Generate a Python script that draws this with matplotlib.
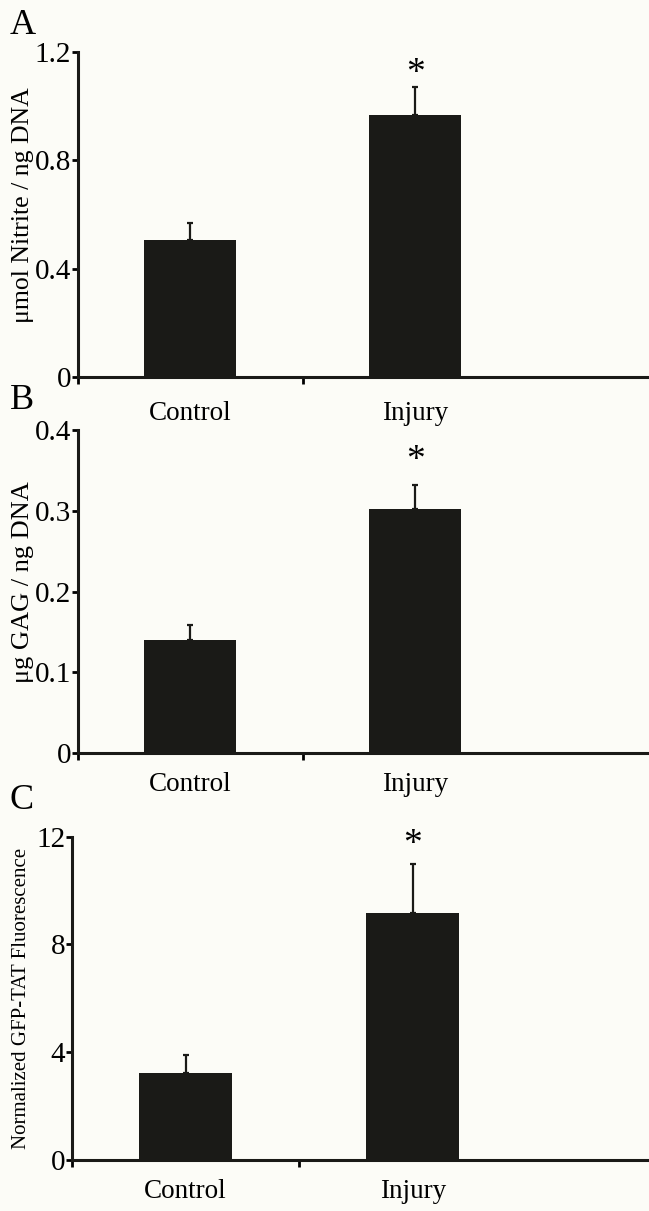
import numpy as np
import matplotlib
matplotlib.use('Agg')
import matplotlib.pyplot as plt

plt.rcParams['font.family'] = ['Liberation Serif', 'DejaVu Serif']

groups = ['Control', 'Injury']

nitrite = [0.506, 0.967]
nitrite_err = [0.064, 0.103]

gag = [0.140, 0.302]
gag_err = [0.018, 0.030]

gfp = [3.24, 9.16]
gfp_err = [0.66, 1.83]

panels = [
    ('A', nitrite, nitrite_err, 'μmol Nitrite / ng DNA', [0, 0.4, 0.8, 1.2], ['0', '0.4', '0.8', '1.2'], 1.2, 1.12, 18.5, 17),
    ('B', gag, gag_err, 'μg GAG / ng DNA', [0, 0.1, 0.2, 0.3, 0.4], ['0', '0.1', '0.2', '0.3', '0.4'], 0.4, 0.362, 19, 14),
    ('C', gfp, gfp_err, 'Normalized GFP-TAT Fluorescence', [0, 4, 8, 12], ['0', '4', '8', '12'], 12, 11.7, 15, 14),
]

# axes rectangles [left, bottom, width, height] in figure fraction
rects = [
    [0.120, 0.6887, 0.880, 0.2684],
    [0.120, 0.3782, 0.880, 0.2667],
    [0.111, 0.0421, 0.889, 0.2670],
]
letter_y = [0.979, 0.669, 0.339]
# y label positions in axes fraction
label_xy = [(-0.077, 0.53), (-0.077, 0.53), (-0.071, 0.50)]

bg = '#fcfcf7'
fig = plt.figure(figsize=(6.49, 12.11), dpi=100, facecolor=bg)

x = np.arange(len(groups))
for (letter, vals, errs, ylab, yt, ytl, ymax, star_y, ylab_fs, xpad), rect, ly, lxy in zip(panels, rects, letter_y, label_xy):
    ax = fig.add_axes(rect)
    ax.set_facecolor(bg)
    ax.bar(x, vals, width=0.41, color='#1a1a17', zorder=2)
    ax.errorbar(x, vals, yerr=[np.zeros(len(vals)), errs], fmt='none',
                ecolor='#1a1a17', elinewidth=1.6, capsize=2.5, capthick=1.6, zorder=1)
    ax.text(1, star_y, '*', ha='center', va='center', fontsize=27)

    ax.set_xlim(-0.5, 2.04)
    ax.set_ylim(0, ymax)
    ax.set_yticks(yt)
    ax.set_yticklabels(ytl, fontsize=21)
    ax.set_xticks(x)
    ax.set_xticklabels(groups, fontsize=19.5)
    ax.set_xticks([-0.5, 0.5], minor=True)
    ax.tick_params(axis='x', which='major', length=0, pad=xpad)
    ax.tick_params(axis='x', which='minor', length=5, width=2, direction='out')
    ax.tick_params(axis='y', length=4, width=2, direction='out', pad=1)

    for s in ['top', 'right']:
        ax.spines[s].set_visible(False)
    for s in ['left', 'bottom']:
        ax.spines[s].set_linewidth(2.2)
        ax.spines[s].set_color('#1a1a17')

    ax.set_ylabel(ylab, fontsize=ylab_fs)
    ax.yaxis.set_label_coords(*lxy)
    fig.text(0.015, ly, letter, fontsize=26, ha='left', va='center')

fig.savefig('out.png', dpi=100, facecolor=bg)
